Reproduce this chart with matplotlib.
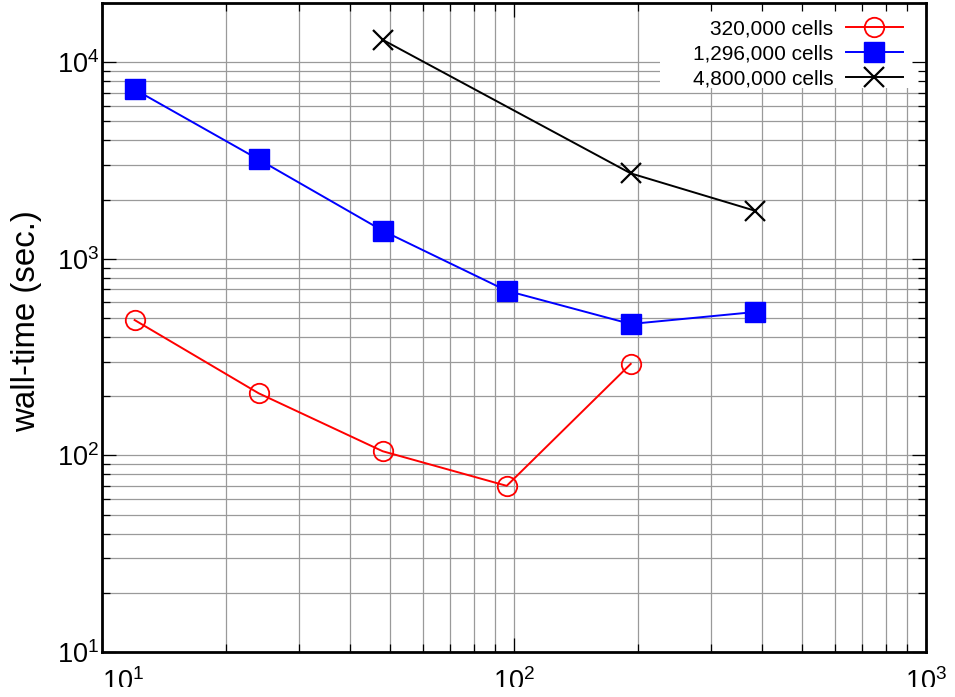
import numpy as np
import matplotlib
matplotlib.use('Agg')
import matplotlib.pyplot as plt
from matplotlib.patches import Rectangle

plt.rcParams['font.family'] = ['Liberation Sans', 'DejaVu Sans']
plt.rcParams['mathtext.fontset'] = 'custom'
plt.rcParams['mathtext.rm'] = 'Liberation Sans'

# Number of processes
procs_320k = [12, 24, 48, 96, 192]
procs_1296k = [12, 24, 48, 96, 192, 384]
procs_4800k = [48, 192, 384]

# Wall-time in seconds for each mesh size
time_320k = [488, 207, 105, 70, 292]
time_1296k = [7270, 3200, 1390, 688, 466, 536]
time_4800k = [13000, 2720, 1757]

labels = ['320,000 cells', '1,296,000 cells', '4,800,000 cells']

fig = plt.figure(figsize=(9.55, 6.97), dpi=100)
ax = fig.add_axes([102 / 955, 1 - 652 / 697, 824 / 955, 649 / 697])

ax.set_xscale('log')
ax.set_yscale('log')
ax.set_xlim(10, 1000)
ax.set_ylim(10, 2e4)
ax.set_xticks([10, 100, 1000])
ax.set_yticks([10, 100, 1000, 10000])

# grid drawn as plain lines so the key box can sit over it but under the ticks
grid_kw = dict(color='#9a9a9a', lw=0.9, zorder=0.5)
for v in list(ax.get_xticks()) + list(ax.xaxis.get_minorticklocs()):
    if 10 < v < 1000:
        ax.axvline(v, **grid_kw)
for v in list(ax.get_yticks()) + list(ax.yaxis.get_minorticklocs()):
    if 10 < v < 2e4:
        ax.axhline(v, **grid_kw)

ax.plot(procs_320k, time_320k, color='#ff0000', lw=1.4, marker='o', ms=14,
        mfc='none', mec='#ff0000', mew=1.3, label=labels[0], zorder=3)
ax.plot(procs_1296k, time_1296k, color='#0000ff', lw=1.4, marker='s', ms=14,
        mfc='#0000ff', mec='#0000ff', label=labels[1], zorder=3)
ax.plot(procs_4800k, time_4800k, color='black', lw=1.4, marker='x', ms=14,
        mew=1.6, label=labels[2], zorder=3)

ax.set_ylabel('wall-time (sec.)', fontsize=23.8)
ax.yaxis.set_label_coords(-0.073, 0.51)

ax.tick_params(which='both', direction='in', top=True, right=True,
               color='black', width=0.9)
ax.tick_params(which='major', length=10, labelsize=19.5)
ax.tick_params(which='minor', length=5.5)
ax.tick_params(axis='y', which='major', pad=2)
ax.tick_params(axis='x', which='major', pad=12)
for s in ax.spines.values():
    s.set_linewidth(2.0)
ax.get_xticklabels()[0].set_ha('left')

# white key area, under ticks and spines
ax.add_patch(Rectangle((0.677, 0.869), 0.323, 0.131, transform=ax.transAxes,
                       facecolor='white', edgecolor='none', zorder=1))

leg = ax.legend(loc='upper right', bbox_to_anchor=(0.972, 0.9753), borderaxespad=0,
                fontsize=15, markerfirst=False, handlelength=2.75,
                handletextpad=0.6, labelspacing=0.29, borderpad=0,
                frameon=False)
leg.set_zorder(1.5)

# blank strip along the bottom edge of the image
fig.add_artist(Rectangle((0, 0), 1, 10 / 697, transform=fig.transFigure,
                         facecolor='white', edgecolor='none', zorder=10))

fig.savefig('out.png', dpi=100)
